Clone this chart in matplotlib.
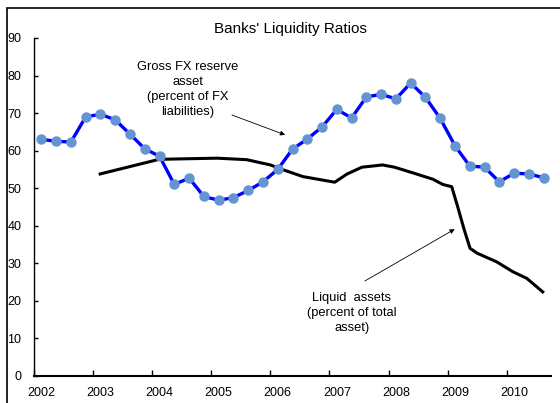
import matplotlib.pyplot as plt
from matplotlib.patches import Rectangle

plt.rcParams['font.family'] = ['Liberation Sans', 'DejaVu Sans']

# quarterly gross FX reserve asset ratio, 2002Q1 .. 2010Q3
fx_reserve = [63.0, 62.5, 62.3, 69.0, 69.7, 68.2, 64.4, 60.5, 58.5, 51.0,
              52.7, 47.8, 46.8, 47.5, 49.4, 51.7, 55.0, 60.4, 63.1, 66.3,
              71.0, 68.7, 74.3, 75.0, 73.8, 78.0, 74.2, 68.6, 61.3, 55.9,
              55.6, 51.7, 54.0, 53.8, 52.8]
fx_x = [2002 + 0.125 + 0.25 * i for i in range(len(fx_reserve))]

# liquid assets ratio
liq_x = [2003.12, 2004.12, 2005.10, 2005.60, 2006.00, 2006.20, 2006.55, 2007.09,
         2007.30, 2007.55, 2007.90, 2008.10, 2008.41, 2008.75, 2008.92, 2009.07,
         2009.17, 2009.28, 2009.38, 2009.50, 2009.83, 2010.10, 2010.34, 2010.61]
liq_y = [53.8, 57.7, 58.0, 57.6, 56.2, 55.0, 53.1, 51.6,
         53.8, 55.6, 56.2, 55.6, 54.1, 52.4, 51.0, 50.4,
         45.1, 39.0, 34.0, 32.7, 30.4, 27.8, 26.0, 22.4]

years = list(range(2002, 2011))

fig = plt.figure(figsize=(5.6, 4.03), dpi=100)
ax = fig.add_axes([34 / 560, 1 - 376 / 403, 517 / 560, 338 / 403])

# outer chart border (cut on right/bottom in the original)
fig.patches.append(Rectangle((7 / 560, -0.1), 1.2, 1.1 - 8 / 403, transform=fig.transFigure,
                             fill=False, edgecolor='black', lw=1.2))

ax.plot(liq_x, liq_y, color='black', lw=2.2, solid_joinstyle='round')
ax.plot(fx_x, fx_reserve, color='#0000ff', lw=2.4, marker='o', ms=6.5,
        markerfacecolor='#6495d2', markeredgecolor='#6495d2')

ax.set_xlim(2002, 2010.75)
ax.set_ylim(0, 90)
ax.set_yticks(range(0, 91, 10))
ax.set_xticks(years)
ax.set_xticklabels([])
ax.set_xticks([y + 0.125 for y in years], minor=True)
ax.set_xticklabels([str(y) for y in years], minor=True)
ax.tick_params(axis='x', which='major', direction='in', length=4, width=1)
ax.tick_params(axis='x', which='minor', length=0, pad=8, labelsize=9)
ax.tick_params(axis='y', direction='in', length=3, width=1, pad=9, labelsize=9)

for s in ['top', 'right']:
    ax.spines[s].set_visible(False)
ax.spines['bottom'].set_linewidth(1.5)
ax.spines['left'].set_linewidth(1)

fig.text(290 / 560, 1 - 29 / 403, "Banks' Liquidity Ratios", ha='center', va='center', fontsize=11)

arrow = dict(arrowstyle='-|>', color='black', lw=0.6, mutation_scale=7, shrinkA=0, shrinkB=0)

ax.text(2004.60, 76.3, 'Gross FX reserve\nasset\n(percent of FX\nliabilities)',
        ha='center', va='center', fontsize=9.3, linespacing=1.3)
ax.annotate('', xy=(2006.25, 64.2), xytext=(2005.35, 69.5), arrowprops=arrow)

ax.text(2007.38, 16.8, 'Liquid  assets\n(percent of total\nasset)',
        ha='center', va='center', fontsize=9.3, linespacing=1.3)
ax.annotate('', xy=(2009.12, 39.1), xytext=(2007.60, 25.3), arrowprops=arrow)

fig.savefig('out.png', dpi=100)
